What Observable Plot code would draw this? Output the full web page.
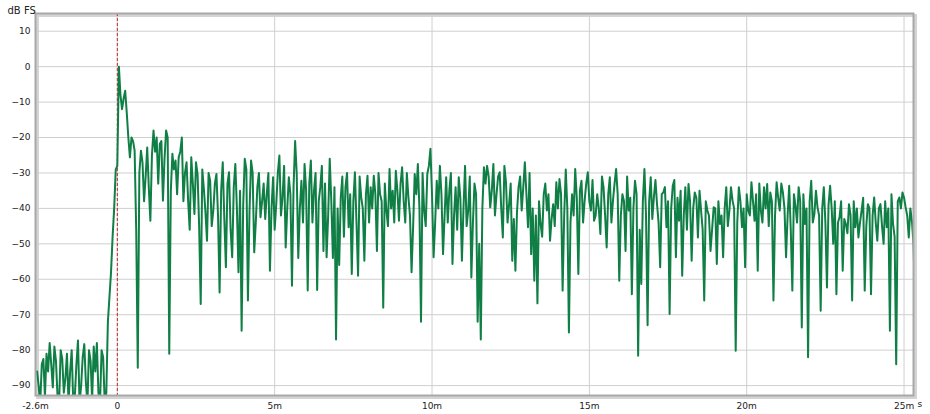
<!DOCTYPE html>
<html>
<head>
<meta charset="utf-8">
<script src="https://cdn.jsdelivr.net/npm/d3@7"></script>
<script src="https://cdn.jsdelivr.net/npm/@observablehq/plot@0.6"></script>
<style>
  html, body { margin: 0; padding: 0; background: #ffffff; }
  #chart svg { display: block; font-family: "DejaVu Sans", sans-serif; }
</style>
</head>
<body>
<div id="chart"></div>
<script>
// Impulse response: samples every 0.1 ms from -2.55 ms,
// plus in-between samples (at +0.05 ms).
const startMs = -2.55;
const stepMs = 0.1;
const levelDb = [
  -86, -95, -82.5, -81, -78, -90.5, -83, -95, -82.5, -88,
  -95, -80, -93, -77.3, -90, -78.3, -95, -83, -79, -78,
  -95, -82, -92, -65, -48, -29, 0, -12, -6.8, -20,
  -20, -23.7, -85, -23.7, -38, -22.8, -43.5, -18, -20, -21.8,
  -37.8, -18, -81, -24.6, -26.5, -25.6, -20, -30, -37.8, -25.6,
  -41.6, -30.3, -67, -34.5, -49.1, -32.2, -40.6, -30.3, -63.7, -27,
  -56.6, -29.8, -53.8, -27.5, -58, -74.5, -26, -66, -26.5, -52.4,
  -34, -42.5, -33, -35.9, -57.6, -31.2, -38.8, -25.1, -36.9, -51,
  -31.2, -61.8, -21, -54, -32.2, -27.5, -63.2, -26.5, -35, -63,
  -34, -52, -53.8, -26, -54, -77, -56, -31, -34, -45.3,
  -58.5, -29.8, -59, -36.9, -54.8, -30.8, -34, -30.8, -52, -36,
  -68, -40.6, -28.9, -35, -29.4, -43.5, -28.4, -44, -36.9, -58,
  -30.3, -27.5, -72, -40.6, -30.3, -23.2, -53.8, -32.2, -28, -52.9,
  -31.2, -35, -55.7, -34, -31.2, -54.8, -28, -40.6, -59.5, -33,
  -72, -77, -28.4, -28, -39.7, -27.5, -36, -29.8, -48.2, -32.6,
  -38.8, -54.8, -57.6, -34, -40.6, -27, -45.3, -52.9, -60.4, -66.8,
  -44.4, -36, -40.6, -49.1, -38.8, -32.6, -31.7, -63.2, -29, -75,
  -36, -28.9, -58.5, -32.2, -37.8, -29.8, -40.6, -43.5, -36, -47.2,
  -34, -51, -31.2, -37.8, -28.9, -60.4, -36, -52, -40.6, -64.2,
  -32.2, -81.6, -61.3, -28.9, -73, -31.2, -36.9, -38.8, -56.6, -35.5,
  -45.3, -69.8, -33.6, -53.8, -43.5, -59, -34, -33.1, -54.8, -35.5,
  -48.2, -40.6, -66, -40.6, -52, -39.7, -55.7, -44.4, -53.8, -34,
  -40.6, -37.8, -80.2, -34, -45.3, -56.6, -40.6, -32.6, -43.5, -57.6,
  -40.6, -34, -33.1, -35.5, -66, -32.6, -40.6, -35.5, -53.8, -33.6,
  -63.2, -39.2, -34, -73.6, -44.4, -82, -32.2, -41.6, -39.7, -68.9,
  -34, -62.3, -33.6, -50, -64.2, -42.5, -57.6, -44.4, -38.8, -66,
  -45.3, -48.2, -40.6, -63.2, -38.8, -64.2, -36.9, -49.1, -38.8, -50,
  -45.3, -74.5, -44.4, -84, -36.9, -35.5, -39.7, -48.2, -43.5, -67
];
const levelDbMid = [
  -90, -84, -93, -86, -84, -79, -93, -80, -92, -81,
  -86, -95, -84, -95, -82, -89, -80, -94, -86, -92,
  -80, -95, -72, -58, -40, -28, -8, -9, -13, -25.6,
  -21, -46, -30, -27, -31, -34, -25, -24, -33, -21,
  -26, -20, -35, -29, -36, -24, -38, -27, -46, -33,
  -27, -45, -29, -41, -30, -45, -33, -42, -35, -43,
  -33, -46, -34, -40, -35, -39, -29, -41, -30, -44,
  -30, -38, -43, -30, -40, -46, -30, -42, -28, -40,
  -36, -34, -30, -40, -44, -35, -33, -44, -30, -38,
  -28, -33, -42, -38, -34, -40, -37, -48, -30, -36,
  -38, -44, -31, -40, -36, -44, -40, -36, -30, -38,
  -33, -45, -40, -44, -35, -33, -38, -30, -42, -45,
  -36, -40, -30, -45, -28, -36, -44, -40, -36, -42,
  -44, -30, -42, -46, -37, -40, -45, -31, -44, -36,
  -50, -40, -33, -31, -35, -42, -31, -40, -28, -44,
  -33, -43, -41, -31, -34, -36, -30, -40, -42, -38,
  -48, -33, -36, -43, -45, -40, -36, -42, -40, -44,
  -42, -37, -35, -44, -33, -38, -32, -42, -40, -31,
  -42, -36, -44, -33, -36, -42, -38, -31, -37, -40,
  -36, -46, -38, -42, -38, -43, -32, -44, -36, -34,
  -38, -40, -32, -37, -35, -42, -46, -38, -40, -37,
  -35, -46, -38, -42, -46, -40, -38, -42, -40, -45,
  -34, -40, -44, -38, -40, -36, -42, -38, -36, -33,
  -44, -40, -45, -38, -42, -37, -33, -40, -42, -46,
  -36, -44, -38, -36, -40, -38, -44, -35, -42, -40,
  -44, -39, -40, -38, -44, -38, -43, -47, -42, -38,
  -40, -44, -37, -45, -40, -42, -44, -40, -45, -38,
  -40, -36, -48, -38, -40, -37, -42, -40, -50
];

const xTicks = [-2.6, 0, 5, 10, 15, 20, 25];
const xTickLabels = ["-2.6m", "0", "5m", "10m", "15m", "20m", "25m"];
const xGridTicks = [0, 5, 10, 15, 20, 25];
const yTicks = [-90, -80, -70, -60, -50, -40, -30, -20, -10, 0, 10];
const yLabel = "dB FS";
const xUnit = "s";
const markerMs = [0];

const rows = [];
levelDb.forEach((v, i) => {
  rows.push({t: startMs + i * stepMs, db: v});
  if (i < levelDbMid.length) rows.push({t: startMs + i * stepMs + stepMs / 2, db: levelDbMid[i]});
});

const chart = Plot.plot({
  width: 930,
  height: 414,
  marginLeft: 35,
  marginTop: 13,
  marginRight: 17,
  marginBottom: 19,
  style: {fontSize: "9px", fontFamily: "DejaVu Sans, sans-serif", color: "#222", background: "#ffffff"},
  x: {domain: [-2.6, 25.3], label: null},
  y: {domain: [-92.8, 15], label: null},
  marks: [
    Plot.frame({stroke: "#d4d4d4", strokeWidth: 3, dx: 2, dy: 2}),
    Plot.gridY(yTicks, {stroke: "#cfcfcf", strokeOpacity: 1, strokeWidth: 1}),
    Plot.gridX(xGridTicks, {stroke: "#cfcfcf", strokeOpacity: 1, strokeWidth: 1}),
    Plot.ruleX(markerMs, {stroke: "#c0282a", strokeWidth: 1, strokeDasharray: "3,2"}),
    Plot.line(rows, {x: "t", y: "db", stroke: "#0f7f45", strokeWidth: 2, clip: true, curve: "linear"}),
    Plot.frame({stroke: "#a8a8a8", strokeWidth: 2}),
    Plot.axisY(yTicks, {tickSize: 0, tickPadding: 5, fill: "#222", label: null}),
    Plot.axisX(xTicks, {tickSize: 0, tickPadding: 7, fill: "#222", label: null,
      tickFormat: (d) => xTickLabels[xTicks.indexOf(d)]}),
    Plot.text([xUnit], {frameAnchor: "bottom-right", dx: 4, dy: 11, fill: "#222", textAnchor: "start", clip: false}),
    Plot.text([yLabel], {frameAnchor: "top-left", dx: -28, dy: -7, fill: "#222", textAnchor: "start", fontSize: 10, clip: false})
  ]
});
document.getElementById("chart").appendChild(chart);
</script>
</body>
</html>
